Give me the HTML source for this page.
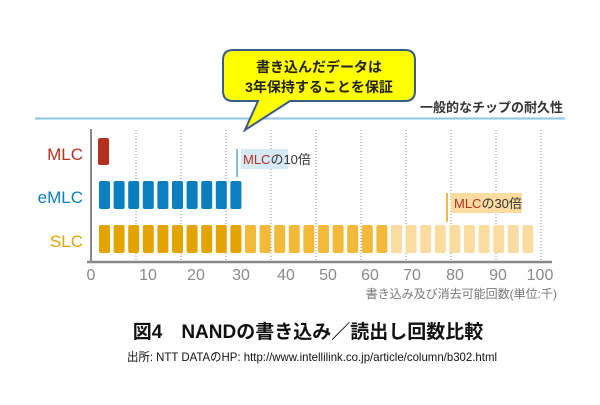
<!DOCTYPE html>
<html><head><meta charset="utf-8"><style>
body{margin:0;background:#fff;}
svg text{font-family:"Liberation Sans","Noto Sans CJK JP",sans-serif;}
</style></head><body>
<svg width="600" height="400" viewBox="0 0 600 400" xmlns="http://www.w3.org/2000/svg">
<rect width="600" height="400" fill="#fff"/>
<line x1="35" y1="118.5" x2="565" y2="118.5" stroke="#8ec3e6" stroke-width="2"/>
<text x="563" y="112" font-size="13" font-weight="bold" fill="#333" text-anchor="end">一般的なチップの耐久性</text>
<g stroke="#888" stroke-width="1" stroke-dasharray="1,2">
<line x1="136" y1="130" x2="136" y2="262"/><line x1="181" y1="130" x2="181" y2="262"/>
<line x1="226" y1="130" x2="226" y2="262"/><line x1="271" y1="130" x2="271" y2="262"/>
<line x1="316" y1="130" x2="316" y2="262"/><line x1="361" y1="130" x2="361" y2="262"/>
<line x1="406" y1="130" x2="406" y2="262"/><line x1="451" y1="130" x2="451" y2="262"/>
<line x1="496" y1="130" x2="496" y2="262"/><line x1="541" y1="130" x2="541" y2="262"/>
</g>
<g id="bars">
<rect x="98" y="138" width="11" height="27" rx="2" fill="#b5301f"/>
</g>
<script>
var g=document.getElementById('bars'),ns='http://www.w3.org/2000/svg';
for(var i=0;i<10;i++){var r=document.createElementNS(ns,'rect');r.setAttribute('x',99+i*14.6);r.setAttribute('y',181);r.setAttribute('width',11);r.setAttribute('height',28);r.setAttribute('rx',2);r.setAttribute('fill','#0a7fbf');g.appendChild(r);}
for(var i=0;i<30;i++){var r=document.createElementNS(ns,'rect');r.setAttribute('x',99+i*14.6);r.setAttribute('y',225);r.setAttribute('width',11);r.setAttribute('height',28);r.setAttribute('rx',2);r.setAttribute('fill',i<10?'#e3a400':(i<20?'#f3b938':'#fbdca0'));g.appendChild(r);}
</script>
<line x1="91" y1="129" x2="91" y2="263" stroke="#888" stroke-width="2"/>
<line x1="87" y1="262" x2="552" y2="262" stroke="#888" stroke-width="2.5"/>
<g font-size="16" fill="#888" text-anchor="middle">
<text x="91" y="280">0</text><text x="148" y="280">10</text><text x="196" y="280">20</text><text x="241" y="280">30</text><text x="286" y="280">40</text><text x="328" y="280">50</text><text x="370" y="280">60</text><text x="412" y="280">70</text><text x="455" y="280">80</text><text x="498" y="280">90</text><text x="540" y="280">100</text>
</g>
<text x="557" y="298" font-size="12" fill="#777" text-anchor="end">書き込み及び消去可能回数(単位:千)</text>
<text x="83" y="160" font-size="17" fill="#b5301f" text-anchor="end">MLC</text>
<text x="83" y="203" font-size="17" fill="#0a7fbf" text-anchor="end">eMLC</text>
<text x="83" y="247" font-size="17" fill="#e3a400" text-anchor="end">SLC</text>
<line x1="237" y1="149" x2="237" y2="177" stroke="#7fbde3" stroke-width="2"/>
<rect x="241" y="149" width="47" height="20" fill="#d6eaf5"/>
<text x="243" y="164" font-size="13" fill="#333"><tspan fill="#b5301f">MLC</tspan>の10倍</text>
<line x1="447" y1="193" x2="447" y2="222" stroke="#f0b94a" stroke-width="2"/>
<rect x="451" y="193" width="71" height="20" fill="#fbdca0"/>
<text x="454" y="208" font-size="13" fill="#333"><tspan fill="#b5301f">MLC</tspan>の30倍</text>
<path d="M233,50 H405 Q415,50 415,60 V91 Q415,101 405,101 H290 L245,130 L258,101 H233 Q223,101 223,91 V60 Q223,50 233,50 Z" fill="#ffff00" stroke="#3a5a8c" stroke-width="2"/>
<text x="319" y="72" font-size="14" font-weight="bold" fill="#222" text-anchor="middle">書き込んだデータは</text>
<text x="319" y="92" font-size="14" font-weight="bold" fill="#222" text-anchor="middle">3年保持することを保証</text>
<text x="308" y="338" font-size="19" font-weight="bold" fill="#111" text-anchor="middle">図4　NANDの書き込み／読出し回数比較</text>
<text x="312" y="361" font-size="12" fill="#111" text-anchor="middle" textLength="370" lengthAdjust="spacingAndGlyphs">出所: NTT DATAのHP: http://www.intellilink.co.jp/article/column/b302.html</text>
</svg>
</body></html>
